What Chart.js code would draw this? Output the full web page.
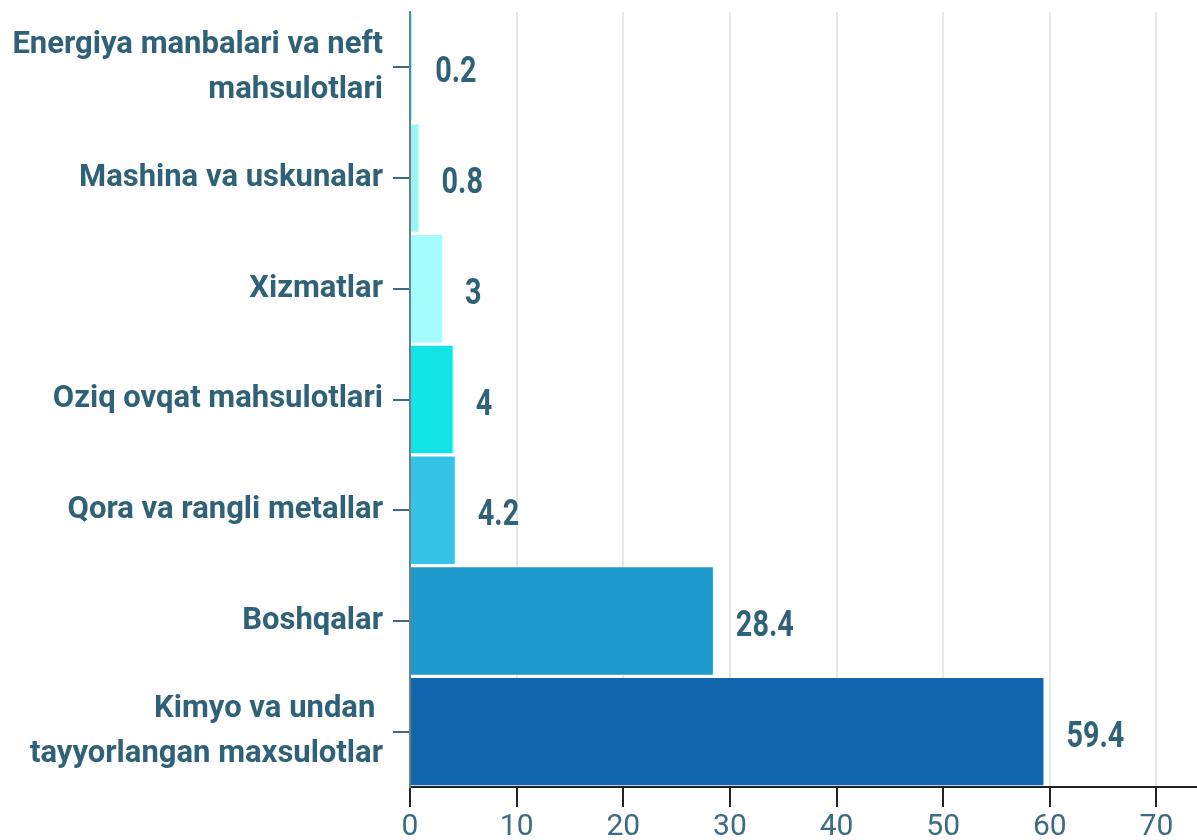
<!DOCTYPE html>
<html><head><meta charset="utf-8">
<script src="https://cdn.jsdelivr.net/npm/chart.js@4"></script>
<style>html,body{margin:0;padding:0;background:#fff}#wrap{width:1197px;height:840px}</style>
</head><body><div id="wrap"><canvas id="c" width="1197" height="840"></canvas></div>
<script>
const categories = [
  ["Energiya manbalari va neft", "mahsulotlari"],
  "Mashina va uskunalar",
  "Xizmatlar",
  "Oziq ovqat mahsulotlari",
  "Qora va rangli metallar",
  "Boshqalar",
  ["Kimyo va undan ", "tayyorlangan maxsulotlar"]
];
const values = [0.2, 0.8, 3, 4, 4.2, 28.4, 59.4];
const barColors = ["#9ff5f0", "#9ef4ef", "#a4fcfd", "#12e4e6", "#36c4e6", "#1d99cc", "#1166ae"];
const xTicks = [0, 10, 20, 30, 40, 50, 60, 70];

const FONT = 'Roboto, "Liberation Sans", sans-serif';
const TEXT = '#2f6178';

const valueLabels = {
  id: 'valueLabels',
  afterDatasetsDraw(chart) {
    const ctx = chart.ctx;
    const meta = chart.getDatasetMeta(0);
    meta.data.forEach((bar, i) => {
      ctx.save();
      ctx.font = 'bold 36px ' + FONT;
      ctx.fillStyle = TEXT;
      ctx.textAlign = 'left';
      ctx.textBaseline = 'middle';
      ctx.translate(bar.x + 23, bar.y + 6);
      ctx.scale(0.8, 1);
      ctx.fillText(String(values[i]), 0, 0);
      ctx.restore();
    });
  }
};

new Chart(document.getElementById('c'), {
  type: 'bar',
  data: {
    labels: categories,
    datasets: [{
      data: values,
      backgroundColor: barColors,
      categoryPercentage: 1,
      barPercentage: 0.97
    }]
  },
  options: {
    indexAxis: 'y',
    responsive: false,
    animation: false,
    layout: { padding: { top: 12, right: 0, left: 0, bottom: 0 } },
    plugins: { legend: { display: false }, tooltip: { enabled: false } },
    scales: {
      x: {
        min: 0,
        max: 73.8,
        afterBuildTicks(scale) { scale.ticks = xTicks.map(v => ({ value: v })); },
        afterFit(scale) { scale.height = 53; scale.paddingLeft = 0; scale.paddingRight = 0; },
        grid: { color: '#e8e8e8', lineWidth: 2, tickColor: '#222', tickLength: 20 },
        border: { color: '#222', width: 2 },
        ticks: { color: '#3d6b84', padding: 2, font: { family: FONT, size: 30 } }
      },
      y: {
        afterFit(scale) { scale.width = 410; scale.paddingTop = 0; scale.paddingBottom = 0; },
        grid: { drawOnChartArea: false, offset: false, tickLength: 17, tickColor: '#3d6b84', lineWidth: 2 },
        border: { color: '#5a87a0', width: 2 },
        ticks: { color: TEXT, padding: 10, font: { family: FONT, size: 31, weight: 'bold', lineHeight: 1.45 } }
      }
    }
  },
  plugins: [valueLabels]
});
</script>
</body></html>
